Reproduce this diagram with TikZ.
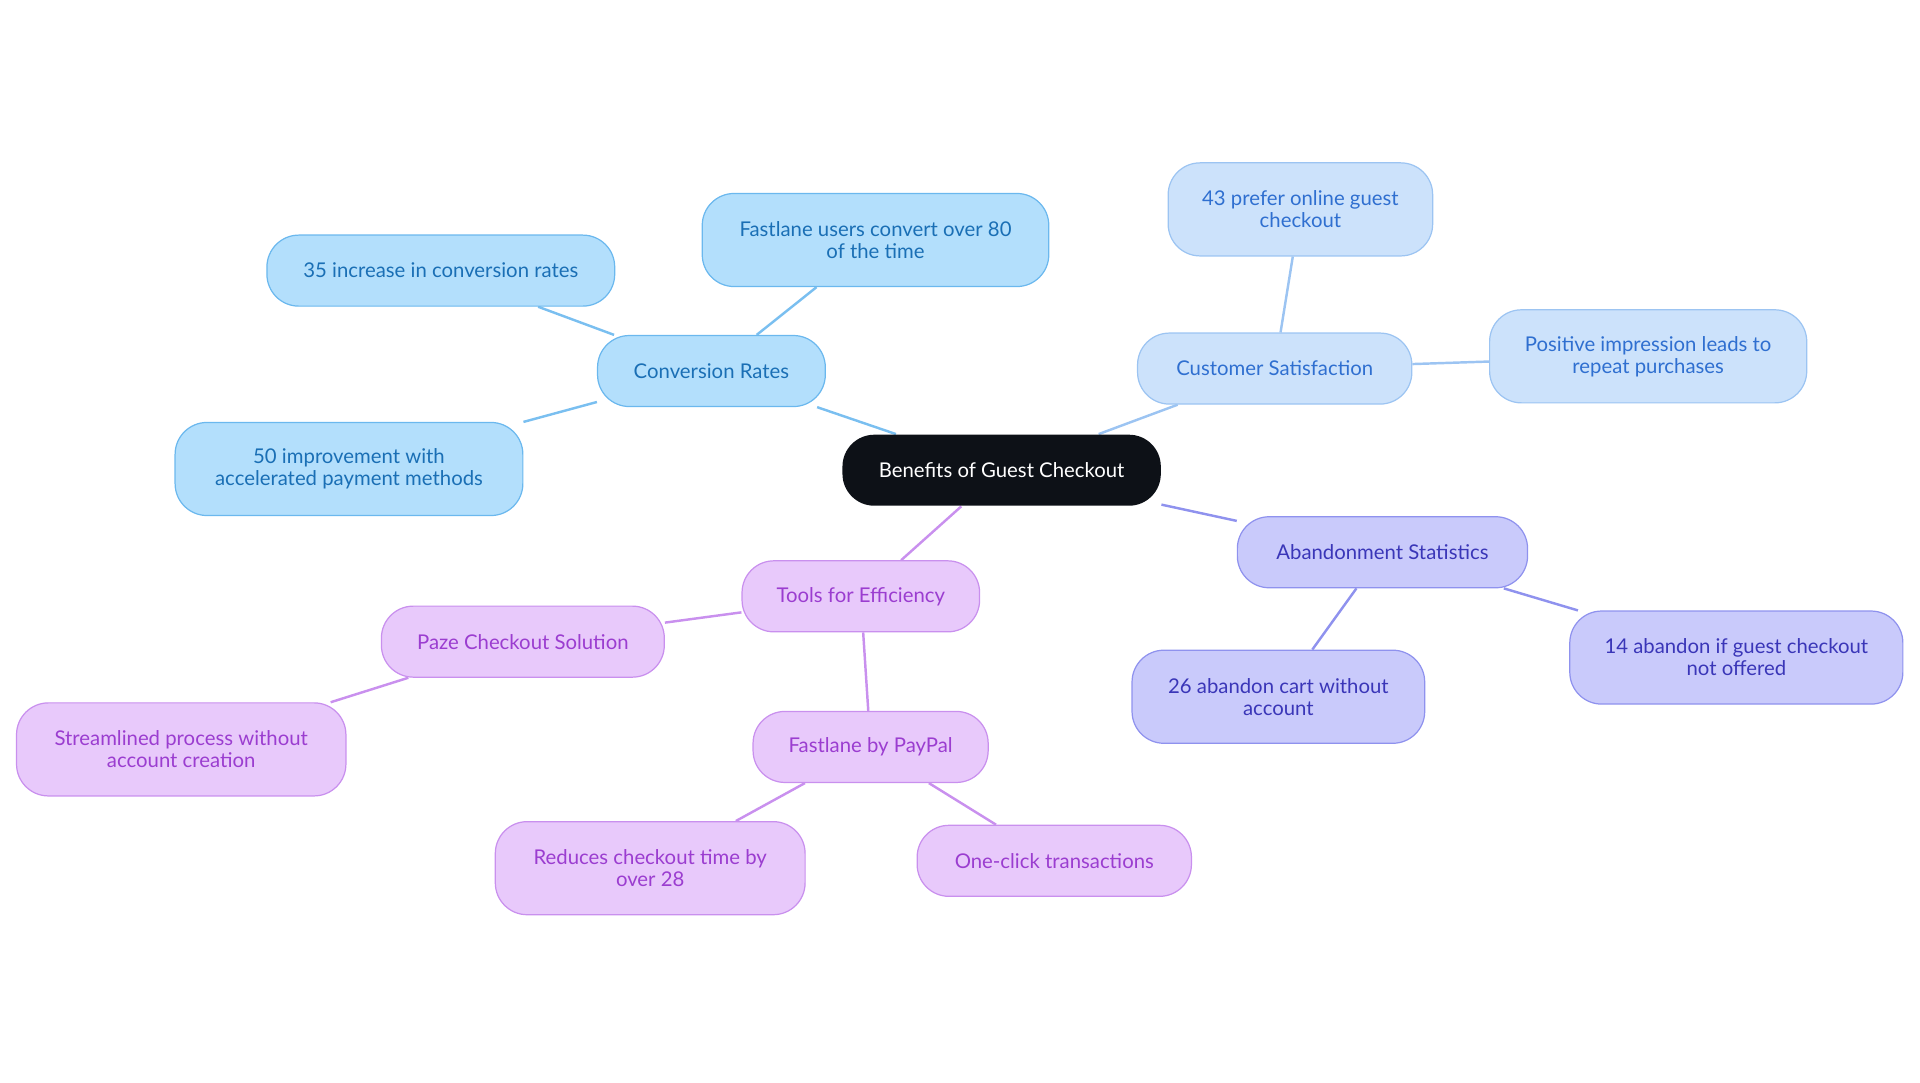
\documentclass[tikz,border=0pt]{standalone}
\usepackage{fontspec}
\setmainfont{Lato}
\usetikzlibrary{backgrounds}
\definecolor{cb1}{HTML}{B3DFFC}\definecolor{cb2}{HTML}{6BB8EE}\definecolor{cb3}{HTML}{1A6FB5}
\definecolor{cc1}{HTML}{CCE2FB}\definecolor{cc2}{HTML}{9CC4F2}\definecolor{cc3}{HTML}{2F6FD0}
\definecolor{ca1}{HTML}{C9CAFB}\definecolor{ca2}{HTML}{8F92EE}\definecolor{ca3}{HTML}{3A36B8}
\definecolor{ct1}{HTML}{E8C9FB}\definecolor{ct2}{HTML}{C990EE}\definecolor{ct3}{HTML}{9B3DD0}
\definecolor{dark}{HTML}{0D1117}
\tikzset{
 bx/.style={rounded corners=13pt,align=center,font=\fontsize{8.3}{9}\selectfont,inner sep=0pt,line width=0.5pt},
 bl/.style={bx,fill=cb1,draw=cb2,text=cb3},
 cs/.style={bx,fill=cc1,draw=cc2,text=cc3},
 ab/.style={bx,fill=ca1,draw=ca2,text=ca3},
 tl/.style={bx,fill=ct1,draw=ct2,text=ct3},
 eb/.style={draw=cb2!90,line width=1pt},
 ec/.style={draw=cc2,line width=1pt},
 ea/.style={draw=ca2,line width=1pt},
 et/.style={draw=ct2,line width=1pt},
 wh/.style 2 args={minimum width=#1*0.5pt,minimum height=#2*0.5pt},
}
\begin{document}
\begin{tikzpicture}[x={(0.5pt,0)},y={(0,-0.5pt)}]
\useasboundingbox (0,0) rectangle (1568,884);
\node[bx,fill=dark,text=white,wh={260}{58}] (c) at (818,384) {Benefits of Guest Checkout};
\node[bl,wh={186}{58}] (cr) at (581,303) {Conversion Rates};
\node[bl,wh={284}{58}] (cr1) at (360,221) {35 increase in conversion rates};
\node[bl,wh={283}{76}] (cr2) at (715,196) {Fastlane users convert over 80\\of the time};
\node[bl,wh={284}{76}] (cr3) at (285,383) {50 improvement with\\accelerated payment methods};
\node[cs,wh={224}{58}] (cs) at (1041,301) {Customer Satisfaction};
\node[cs,wh={216}{76}] (cs1) at (1062,171) {43 prefer online guest\\checkout};
\node[cs,wh={259}{76}] (cs2) at (1346,291) {Positive impression leads to\\repeat purchases};
\node[ab,wh={237}{58}] (ab) at (1129,451) {Abandonment Statistics};
\node[ab,wh={239}{76}] (ab1) at (1044,569) {26 abandon cart without\\account};
\node[ab,wh={272}{76}] (ab2) at (1418,537) {14 abandon if guest checkout\\not offered};
\node[tl,wh={194}{58}] (tf) at (703,487) {Tools for Efficiency};
\node[tl,wh={231}{58}] (pz) at (427,524) {Paze Checkout Solution};
\node[tl,wh={269}{76}] (pz1) at (148,612) {Streamlined process without\\account creation};
\node[tl,wh={192}{58}] (fp) at (711,610) {Fastlane by PayPal};
\node[tl,wh={253}{76}] (fp1) at (531,709) {Reduces checkout time by\\over 28};
\node[tl,wh={224}{58}] (fp2) at (861,703) {One-click transactions};
\begin{scope}[on background layer]
\draw[eb] (c) -- (cr); \draw[eb] (cr) -- (cr1); \draw[eb] (cr) -- (cr2); \draw[eb] (cr) -- (cr3);
\draw[ec] (c) -- (cs); \draw[ec] (cs) -- (cs1); \draw[ec] (cs) -- (cs2);
\draw[ea] (c) -- (ab); \draw[ea] (ab) -- (ab1); \draw[ea] (ab) -- (ab2);
\draw[et] (c) -- (tf); \draw[et] (tf) -- (pz); \draw[et] (pz) -- (pz1); \draw[et] (tf) -- (fp); \draw[et] (fp) -- (fp1); \draw[et] (fp) -- (fp2);
\end{scope}
\end{tikzpicture}
\end{document}
